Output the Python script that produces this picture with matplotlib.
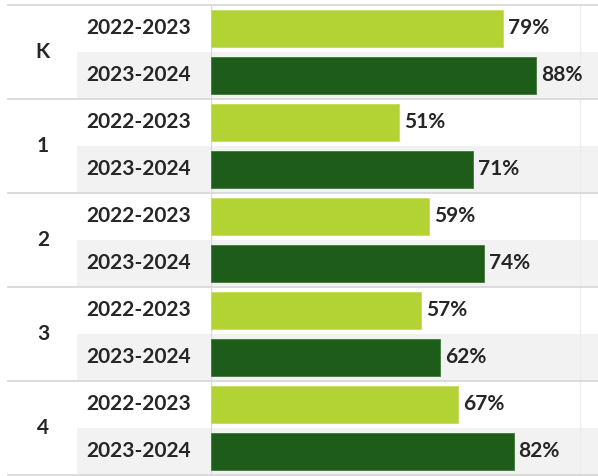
import matplotlib.pyplot as plt
from matplotlib.transforms import blended_transform_factory

grades = ['K', '1', '2', '3', '4']
years = ['2022-2023', '2023-2024']
values_2223 = [79, 51, 59, 57, 67]
values_2324 = [88, 71, 74, 62, 82]

light = '#b3d234'
dark = '#1e5c1a'
grey_bg = '#f2f2f2'
line_col = '#d9d9d9'
txt = '#262626'

plt.rcParams['font.family'] = ['Lato', 'DejaVu Sans']

W, H = 598, 476
fig = plt.figure(figsize=(W / 100, H / 100), dpi=100)
x0, x1 = 211, 598
ax = fig.add_axes([x0 / W, 1 - 475 / H, (x1 - x0) / W, 470 / H])

px_per_pct = 3.69
ax.set_xlim(0, (x1 - x0) / px_per_pct)
ax.set_ylim(len(grades) * 2 - 0.5, -0.5)

def fx(px):
    # figure pixel -> axes fraction of the bar axes
    return (px - x0) / (x1 - x0)

trans = blended_transform_factory(fig.transFigure, ax.transData)
fs = 15

for g, grade in enumerate(grades):
    r1, r2 = 2 * g, 2 * g + 1
    # grey band behind second row (year column + plot area)
    ax.axhspan(r2 - 0.5, r2 + 0.5, xmin=fx(77), xmax=1, color=grey_bg,
               zorder=0, clip_on=False, lw=0)
    ax.barh(r1, values_2223[g], height=0.77, color=light, zorder=3,
            edgecolor='#c4dd63', linewidth=0.6)
    ax.barh(r2, values_2324[g], height=0.77, color=dark, zorder=3,
            edgecolor='#3f7a35', linewidth=0.6)
    for r, v in ((r1, values_2223[g]), (r2, values_2324[g])):
        ax.text(v + 5 / px_per_pct, r, f'{v}%', va='center', ha='left',
                fontsize=fs, fontweight='bold', color=txt, zorder=4)
        ax.text(86 / W, r, years[r - r1], transform=trans, va='center',
                ha='left', fontsize=fs, fontweight='bold', color=txt)
    ax.text(43 / W, g * 2 + 0.5, grade, transform=trans, va='center',
            ha='center', fontsize=fs, fontweight='bold', color=txt)

# separators between groups
for b in range(len(grades) + 1):
    ax.axhline(2 * b - 0.5, xmin=fx(8), xmax=1, color=line_col, lw=1.3,
               clip_on=False, zorder=2)

ax.axvline(0, color=line_col, lw=1.0, zorder=2)
ax.axvline(100, color='#ececec', lw=0.8, zorder=1)

for s in ax.spines.values():
    s.set_visible(False)
ax.set_xticks([])
ax.set_yticks([])
ax.patch.set_alpha(0)

fig.savefig('out.png', dpi=100)
